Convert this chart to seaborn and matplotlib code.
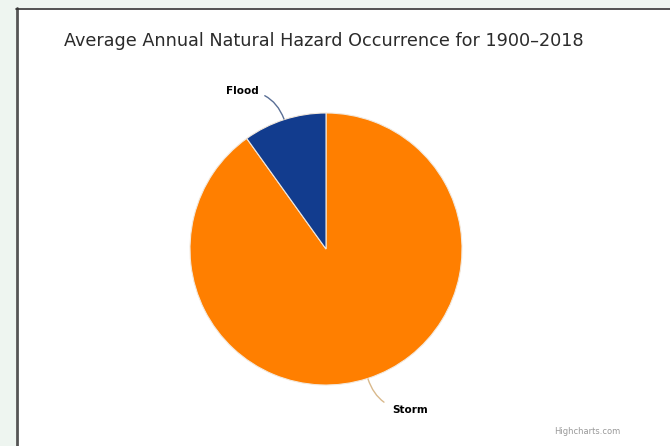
import matplotlib
matplotlib.use("Agg")
import matplotlib.pyplot as plt
from matplotlib.patches import Rectangle
import seaborn as sns

# Share of average annual natural hazard occurrences, 1900-2018
hazards = ["Storm", "Flood"]
shares = [90.1, 9.9]
colors = ["#ff7f00", "#123c8e"]

sns.set_theme(style="white")
plt.rcParams["font.family"] = ["DejaVu Sans"]

W, H = 670, 446
fig = plt.figure(figsize=(W / 100, H / 100), dpi=100)
fig.patch.set_facecolor("#eef5f0")

# white chart panel with a dark border on the left and top
panel = Rectangle((16 / W, -0.1), 1.2, (H - 8) / H + 0.1, transform=fig.transFigure,
                  facecolor="white", edgecolor="none", zorder=0)
fig.add_artist(panel)
fig.add_artist(plt.Line2D([16.5 / W, 16.5 / W], [0, (H - 8) / H], transform=fig.transFigure,
                          color="#555555", lw=2.0, zorder=1))
fig.add_artist(plt.Line2D([16 / W, 1], [(H - 8.5) / H, (H - 8.5) / H], transform=fig.transFigure,
                          color="#333333", lw=1.2, zorder=1))

# axes over the whole figure; one data unit equals the pie radius
cx, cy, r = 326, 249, 136
ax = fig.add_axes([0, 0, 1, 1])
ax.patch.set_alpha(0)
wedges, _ = ax.pie(shares, colors=colors, startangle=90, counterclock=False, radius=1,
                   wedgeprops=dict(edgecolor="#f2e8dc", linewidth=0.8))
ax.set_xlim(-cx / r, (W - cx) / r)
ax.set_ylim(-(H - cy) / r, cy / r)
ax.set_aspect("auto")
ax.axis("off")


def px(x, y):
    return ((x - cx) / r, (cy - y) / r)


# data labels with curved connectors
ax.annotate(hazards[1], xy=px(284, 119), xytext=px(259, 91), ha="right", va="center",
            fontsize=7.5, fontweight="bold", color="#000000",
            arrowprops=dict(arrowstyle="-", color="#5a6f96", lw=1.0,
                            connectionstyle="arc3,rad=-0.35", shrinkA=2, shrinkB=0),
            annotation_clip=False)
ax.annotate(hazards[0], xy=px(368, 379), xytext=px(392, 410), ha="left", va="center",
            fontsize=7.5, fontweight="bold", color="#000000",
            arrowprops=dict(arrowstyle="-", color="#d9b98c", lw=1.0,
                            connectionstyle="arc3,rad=-0.35", shrinkA=4, shrinkB=0),
            annotation_clip=False)

fig.text(324 / W, 1 - 41 / H, "Average Annual Natural Hazard Occurrence for 1900\u20132018",
         ha="center", va="center", fontsize=12.7, color="#2b2b2b")
fig.text(620 / W, 1 - 431 / H, "Highcharts.com", ha="right", va="center",
         fontsize=6, color="#999999")

fig.savefig("out.png", dpi=100, facecolor=fig.get_facecolor())
